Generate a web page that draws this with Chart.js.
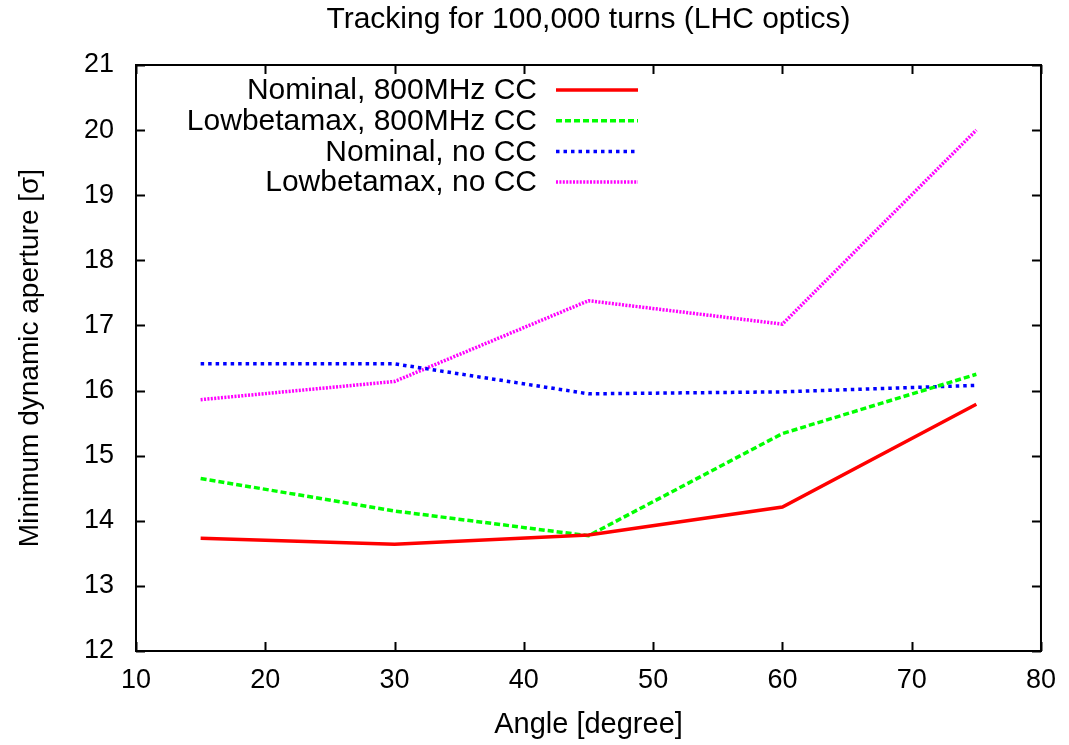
<!DOCTYPE html>
<html>
<head>
<meta charset="utf-8">
<title>Tracking for 100,000 turns (LHC optics)</title>
<script src="https://cdn.jsdelivr.net/npm/chart.js@4/dist/chart.umd.min.js"></script>
<style>
  html, body { margin: 0; padding: 0; background: #fff; }
  #wrap { width: 1069px; height: 745px; position: relative; }
</style>
</head>
<body>
<div id="wrap"><canvas id="apertureChart"></canvas></div>
<script>
// crossing angles (degree)
const angles = [15, 30, 45, 60, 75];

// minimum dynamic aperture [sigma]
const nominalCC = [13.73, 13.64, 13.78, 14.21, 15.79];
const lowbetaCC = [14.65, 14.15, 13.77, 15.34, 16.25];
const nominalNoCC = [16.41, 16.41, 15.95, 15.98, 16.08];
const lowbetaNoCC = [15.86, 16.14, 17.38, 17.02, 20.0];

const seriesLabels = ['Nominal, 800MHz CC', 'Lowbetamax, 800MHz CC', 'Nominal, no CC', 'Lowbetamax, no CC'];

const FONT = '"Liberation Sans", Arial, Helvetica, sans-serif';

function toPoints(ys) {
    return angles.map((a, i) => ({ x: a, y: ys[i] }));
}

// gnuplot-like frame with inward ticks on all four sides
const framePlugin = {
    id: 'frame',
    afterDatasetsDraw(chart) {
        const { ctx, chartArea: a, scales } = chart;
        const len = 9;
        ctx.save();
        ctx.strokeStyle = '#000';
        ctx.lineWidth = 2;
        ctx.beginPath();
        scales.x.ticks.forEach(t => {
            const px = Math.round(scales.x.getPixelForValue(t.value)) + 0.5;
            ctx.moveTo(px, a.bottom); ctx.lineTo(px, a.bottom - len);
            ctx.moveTo(px, a.top); ctx.lineTo(px, a.top + len);
        });
        scales.y.ticks.forEach(t => {
            const py = Math.round(scales.y.getPixelForValue(t.value)) + 0.5;
            ctx.moveTo(a.left, py); ctx.lineTo(a.left + len, py);
            ctx.moveTo(a.right, py); ctx.lineTo(a.right - len, py);
        });
        ctx.stroke();
        ctx.strokeRect(a.left, a.top, a.right - a.left, a.bottom - a.top);
        ctx.restore();
    }
};

// legend in gnuplot style: right aligned text, line sample on the right
const keyPlugin = {
    id: 'key',
    afterDatasetsDraw(chart) {
        const { ctx, chartArea: a } = chart;
        const textRight = a.left + 401;
        const lineStart = a.left + 420;
        const lineEnd = a.left + 502;
        const top = a.top + 25;
        const step = 30.7;
        ctx.save();
        ctx.font = '30px ' + FONT;
        ctx.textAlign = 'right';
        ctx.textBaseline = 'middle';
        chart.data.datasets.forEach((ds, i) => {
            const y = top + i * step;
            ctx.fillStyle = '#000';
            ctx.fillText(ds.label, textRight, y + 1);
            ctx.strokeStyle = ds.borderColor;
            ctx.lineWidth = ds.borderWidth;
            ctx.setLineDash(ds.borderDash || []);
            ctx.beginPath();
            ctx.moveTo(lineStart, y);
            ctx.lineTo(lineEnd, y);
            ctx.stroke();
        });
        ctx.restore();
    }
};

const ctx = document.getElementById('apertureChart').getContext('2d');
const chart = new Chart(ctx, {
    type: 'line',
    data: {
        datasets: [
            {
                label: seriesLabels[0],
                data: toPoints(nominalCC),
                borderColor: '#ff0000',
                borderWidth: 3.5,
                borderDash: []
            },
            {
                label: seriesLabels[1],
                data: toPoints(lowbetaCC),
                borderColor: '#00ff00',
                borderWidth: 3.5,
                borderDash: [6, 3]
            },
            {
                label: seriesLabels[2],
                data: toPoints(nominalNoCC),
                borderColor: '#0000ff',
                borderWidth: 3.5,
                borderDash: [3.5, 4]
            },
            {
                label: seriesLabels[3],
                data: toPoints(lowbetaNoCC),
                borderColor: '#ff00ff',
                borderWidth: 3.5,
                borderDash: [2, 1.4]
            }
        ]
    },
    options: {
        responsive: true,
        maintainAspectRatio: false,
        animation: false,
        elements: {
            point: { radius: 0, hoverRadius: 0 },
            line: { tension: 0, borderCapStyle: 'butt' }
        },
        layout: { padding: { left: 0, right: 24, top: 0, bottom: 0 } },
        scales: {
            x: {
                type: 'linear',
                min: 10,
                max: 80,
                afterFit: scale => { scale.height = 94; },
                ticks: {
                    stepSize: 10,
                    padding: 13,
                    color: '#000',
                    maxRotation: 0,
                    font: { family: FONT, size: 27 }
                },
                grid: { display: false, drawTicks: false },
                border: { display: false },
                title: {
                    display: true,
                    text: 'Angle [degree]',
                    color: '#000',
                    font: { family: FONT, size: 29 },
                    padding: { top: 0, bottom: 3 }
                }
            },
            y: {
                min: 12,
                max: 21,
                afterFit: scale => { scale.width = 136; },
                ticks: {
                    stepSize: 1,
                    padding: 22,
                    color: '#000',
                    font: { family: FONT, size: 27 }
                },
                grid: { display: false, drawTicks: false },
                border: { display: false },
                title: {
                    display: true,
                    text: 'Minimum dynamic aperture [σ]',
                    color: '#000',
                    font: { family: FONT, size: 28 },
                    padding: { top: 13, bottom: 0 }
                }
            }
        },
        plugins: {
            legend: { display: false },
            tooltip: { enabled: false },
            title: {
                display: true,
                fullSize: false,
                text: 'Tracking for 100,000 turns (LHC optics)',
                color: '#000',
                font: { family: FONT, size: 30, weight: 'normal' },
                padding: { top: 2, bottom: 27 }
            }
        }
    },
    plugins: [framePlugin, keyPlugin]
});
</script>
</body>
</html>
